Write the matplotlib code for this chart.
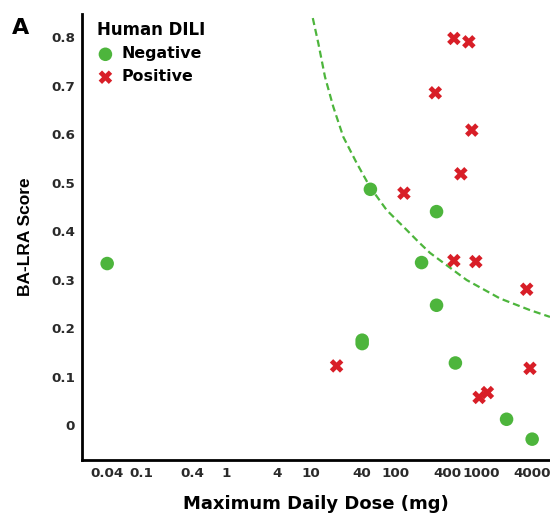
import matplotlib
matplotlib.use('Agg')
import matplotlib.pyplot as plt

plt.rcParams['font.family'] = ['DejaVu Sans']
plt.rcParams['font.weight'] = 'bold'

# DILI negative compounds (dose in mg, BA-LRA score)
neg_dose = [0.04, 50, 300, 200, 300, 40, 40, 500, 2000, 4000]
neg_score = [0.333, 0.486, 0.440, 0.335, 0.247, 0.175, 0.168, 0.128, 0.012, -0.029]

# DILI positive compounds
pos_dose = [480, 720, 290, 780, 580, 124, 480, 870, 3450, 20, 3770, 950, 1190]
pos_score = [0.797, 0.790, 0.685, 0.608, 0.518, 0.478, 0.339, 0.337, 0.280, 0.122, 0.117, 0.057, 0.067]

# dashed boundary curve
curve_dose = [10.5, 12.2, 14.6, 18.3, 24.0, 34.5, 49.4, 77.8, 134, 183, 251, 679, 1674, 3770, 6486]
curve_score = [0.839, 0.787, 0.718, 0.656, 0.594, 0.540, 0.491, 0.443, 0.402, 0.378, 0.355, 0.299, 0.261, 0.237, 0.223]

xticks = [0.04, 0.1, 0.4, 1, 4, 10, 40, 100, 400, 1000, 4000]
xticklabels = ['0.04', '0.1', '0.4', '1', '4', '10', '40', '100', '400', '1000', '4000']
yticks = [0, 0.1, 0.2, 0.3, 0.4, 0.5, 0.6, 0.7, 0.8]
yticklabels = ['0', '0.1', '0.2', '0.3', '0.4', '0.5', '0.6', '0.7', '0.8']

green = '#4db53c'
red = '#d81e27'

fig = plt.figure(figsize=(5.5, 5.16), dpi=100)
ax = fig.add_axes([0.149, 0.1085, 0.851, 0.864])

ax.plot(curve_dose, curve_score, color=green, lw=1.6, ls=(0, (3.2, 1.8)), zorder=1)
ax.scatter(neg_dose, neg_score, s=95, marker='o', color=green, edgecolors='none', label='Negative', zorder=3)
ax.scatter(pos_dose, pos_score, s=95, marker='X', color=red, edgecolors='none', label='Positive', zorder=3)

ax.set_xscale('log')
ax.set_xlim(0.0202, 6486)
ax.set_ylim(-0.072, 0.847)
ax.set_xticks(xticks)
ax.set_xticklabels(xticklabels)
ax.minorticks_off()
ax.set_yticks(yticks)
ax.set_yticklabels(yticklabels)
ax.tick_params(length=0, labelsize=9.7, pad=5, labelcolor='#2a2a2a')
for lab in ax.get_xticklabels() + ax.get_yticklabels():
    lab.set_fontweight('bold')

ax.spines['top'].set_visible(False)
ax.spines['right'].set_visible(False)
ax.spines['left'].set_linewidth(2)
ax.spines['bottom'].set_linewidth(2)

ax.set_xlabel('Maximum Daily Dose (mg)', fontsize=13, fontweight='bold', labelpad=11)
ax.set_ylabel('BA-LRA Score', fontsize=12.5, fontweight='bold', labelpad=13,
              family=['Liberation Sans', 'DejaVu Sans'])

leg = ax.legend(title='Human DILI', loc='upper left', bbox_to_anchor=(0.018, 1.0),
                frameon=False, fontsize=11.4,
                title_fontproperties={'weight': 'bold', 'size': 12},
                alignment='left', handletextpad=0.45, labelspacing=0.5,
                borderaxespad=0.1, borderpad=0.3, handlelength=1.1, markerscale=1.0)

fig.text(0.022, 0.935, 'A', fontsize=16, fontweight='bold')

fig.savefig('out.png', dpi=100)
